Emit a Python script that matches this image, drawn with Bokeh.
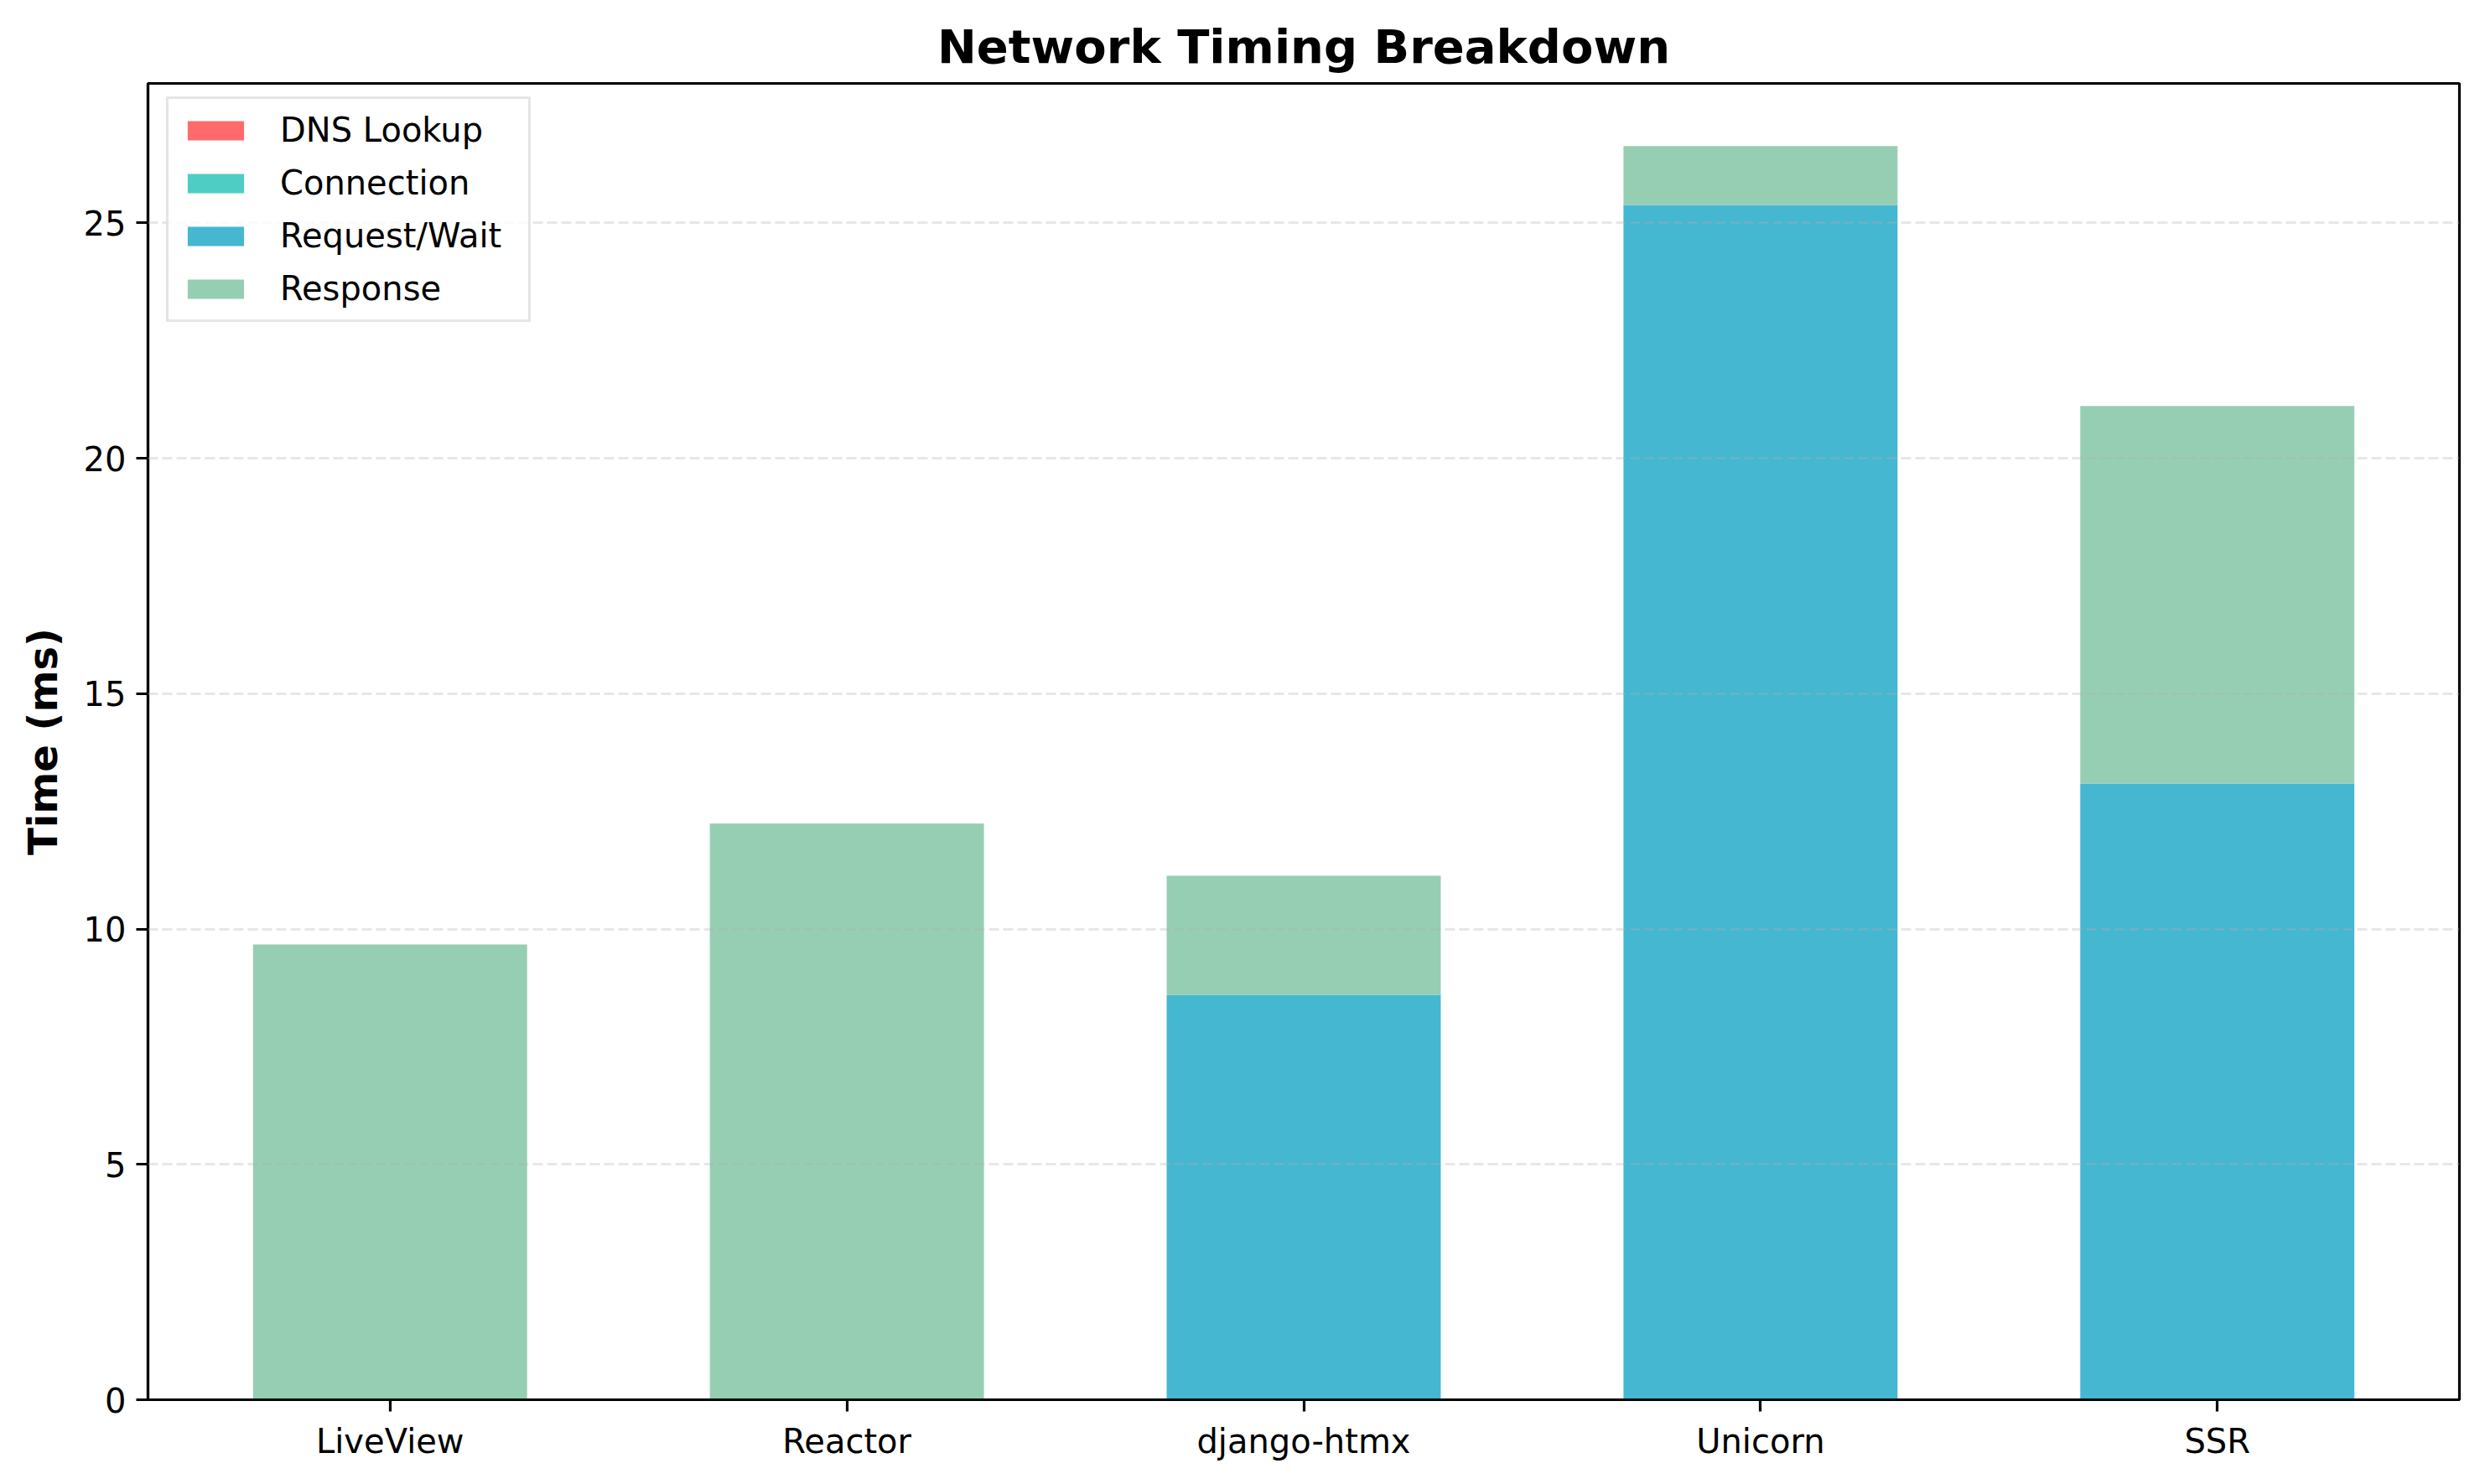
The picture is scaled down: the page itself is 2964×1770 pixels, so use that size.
from bokeh.plotting import figure
from bokeh.models import ColumnDataSource, Range1d, FixedTicker, Legend
from bokeh.embed import file_html
from bokeh.resources import INLINE

categories = ["LiveView", "Reactor", "django-htmx", "Unicorn", "SSR"]
dns_lookup = [0.0, 0.0, 0.0, 0.0, 0.0]
connection = [0.0, 0.0, 0.0, 0.0, 0.0]
request_wait = [0.0, 0.0, 8.6, 25.38, 13.09]
response = [9.67, 12.24, 2.53, 1.25, 8.02]
series_names = ["DNS Lookup", "Connection", "Request/Wait", "Response"]
series_colors = ["#FF6B6B", "#4ECDC4", "#45B7D1", "#96CEB4"]
y_ticks = [0, 5, 10, 15, 20, 25]

xpos = list(range(len(categories)))
source = ColumnDataSource(data=dict(
    x=xpos, dns=dns_lookup, conn=connection, req=request_wait, resp=response))

totals = [a + b + c + d for a, b, c, d in zip(dns_lookup, connection, request_wait, response)]
ymax = max(totals) * 1.05

FONT = "DejaVu Sans"
FRAME_H = 1570

p = figure(width=2956, height=1762, output_backend="svg", toolbar_location=None,
           x_range=Range1d(-0.53, len(categories) - 1 + 0.53),
           y_range=Range1d(0, ymax),
           min_border_left=176, min_border_right=23, min_border_top=99, min_border_bottom=93)

renderers = p.vbar_stack(["dns", "conn", "req", "resp"], x="x", width=0.6, source=source,
                         color=series_colors, line_color=None)

# title
p.title.text = "Network Timing Breakdown"
p.title.text_font = FONT
p.title.text_font_size = "56px"
p.title.text_font_style = "bold"
p.title.text_color = "black"
p.title.align = "center"
p.title.standoff = 24

# outline
p.outline_line_color = "black"
p.outline_line_width = 3.2

# axes
p.xaxis.ticker = FixedTicker(ticks=xpos)
p.xaxis.major_label_overrides = {i: c for i, c in enumerate(categories)}
p.yaxis.ticker = FixedTicker(ticks=y_ticks)
for ax in (p.xaxis[0], p.yaxis[0]):
    ax.axis_line_color = "black"
    ax.axis_line_width = 3.2
    ax.major_tick_line_color = "black"
    ax.major_tick_line_width = 3.2
    ax.major_tick_out = 14
    ax.major_tick_in = 0
    ax.minor_tick_line_color = None
    ax.major_label_text_font = FONT
    ax.major_label_text_font_size = "40px"
    ax.major_label_text_color = "black"
    ax.major_label_standoff = 12

p.yaxis.axis_label = "Time (ms)"
p.yaxis.axis_label_text_font = FONT
p.yaxis.axis_label_text_font_size = "48px"
p.yaxis.axis_label_text_font_style = "bold"
p.yaxis.axis_label_text_color = "black"
p.yaxis.axis_label_standoff = 18

# grid
p.xgrid.grid_line_color = None
p.ygrid.grid_line_color = "#b0b0b0"
p.ygrid.grid_line_alpha = 0.3
p.ygrid.grid_line_width = 3.2
p.ygrid.grid_line_dash = "12 5"
p.ygrid.level = "annotation"

# legend
LEG_H = 2 * 14 + 4 * 46 + 3 * 17
legend = Legend(items=[(n, [r]) for n, r in zip(series_names, renderers)],
                location=(22, FRAME_H - 22 - LEG_H))
legend.label_text_font = FONT
legend.label_text_font_size = "40px"
legend.label_text_color = "black"
legend.glyph_width = 84
legend.glyph_height = 29
legend.label_height = 46
legend.label_width = 282
legend.label_standoff = 35
legend.spacing = 17
legend.padding = 14
legend.margin = 0
legend.border_line_color = "#cccccc"
legend.border_line_width = 3
legend.background_fill_alpha = 0.8
p.add_layout(legend)

p.background_fill_color = "white"
p.border_fill_color = "white"

open("out.html", "w").write(file_html(p, INLINE))
